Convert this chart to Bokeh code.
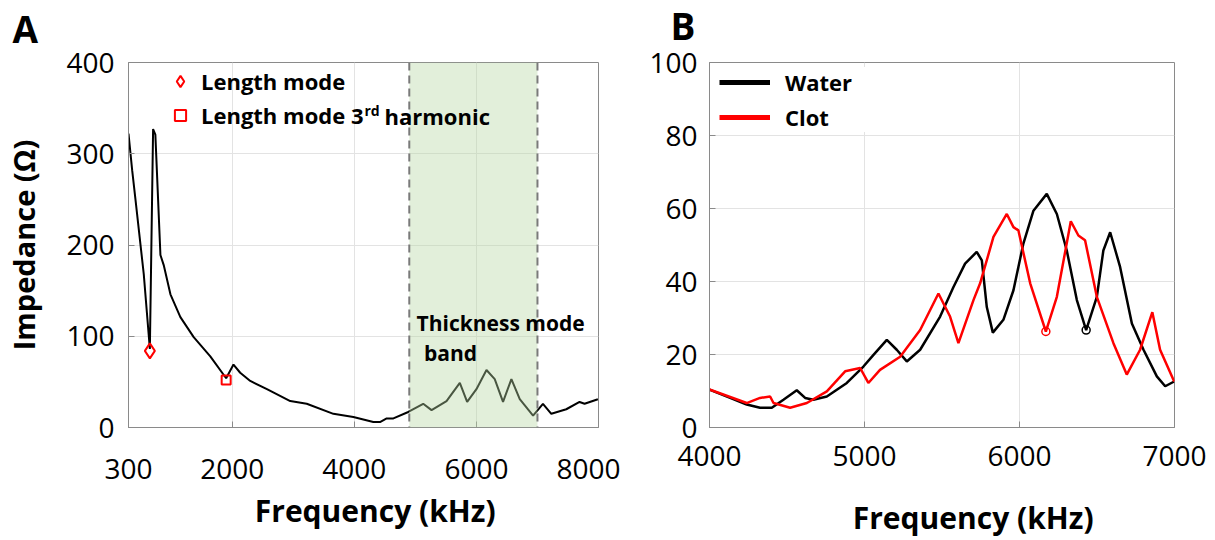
from bokeh.plotting import figure
from bokeh.layouts import row
from bokeh.models import (Range1d, FixedTicker, Label, Legend, LegendItem,
                          BoxAnnotation, Span)
from bokeh.embed import file_html
from bokeh.resources import INLINE

# ---------------- data: panel A ----------------
freq_a = [300, 360, 414, 550, 650, 703, 740, 823, 877, 987, 1150, 1368, 1640,
          1900, 2020, 2130, 2295, 2568, 2950, 3220, 3657, 3984, 4311, 4420,
          4530, 4640, 4883, 5128, 5265, 5510, 5728, 5848, 6000, 6165, 6300,
          6436, 6573, 6710, 6928, 7090, 7227, 7472, 7690, 7772, 7990]
imp_a = [322, 282, 250, 168, 86, 327, 321, 189, 178, 146, 121, 99, 78,
         54, 69, 60, 51, 42, 29, 26, 15, 11.5, 6, 6,
         10, 10, 17, 26, 19, 29, 49, 28, 42, 63, 53,
         28, 53, 31, 13, 26, 15, 20, 28, 26, 31]
length_mode_f = [650]
length_mode_z = [84]
harmonic_f = [1900]
harmonic_z = [52]
band_start = 4900
band_end = 7000
xticks_a = [300, 2000, 4000, 6000, 8000]
yticks_a = [0, 100, 200, 300, 400]

# ---------------- data: panel B ----------------
freq_water = [4000, 4133, 4240, 4326, 4402, 4477, 4563, 4617, 4670, 4757, 4886,
              4993, 5058, 5144, 5208, 5273, 5359, 5488, 5574, 5649, 5724, 5757,
              5789, 5828, 5896, 5961, 6025, 6090, 6176, 6241, 6305, 6370, 6430,
              6499, 6541, 6585, 6649, 6725, 6800, 6886, 6940, 6998]
imp_water = [10.4, 8.1, 6.3, 5.4, 5.4, 7.6, 10.2, 8.1, 7.6, 8.5, 12.2,
             16.7, 19.9, 24.0, 21.3, 18.1, 21.3, 30.4, 38.5, 44.9, 48.1, 45.8,
             33.0, 26.0, 29.5, 37.6, 50.4, 59.4, 64.0, 58.5, 48.5, 34.9, 26.7,
             35.8, 48.5, 53.5, 44.0, 28.5, 21.3, 14.0, 11.3, 12.6]
freq_clot = [4000, 4240, 4326, 4391, 4413, 4520, 4628, 4757, 4875, 4972, 5025,
             5100, 5230, 5359, 5477, 5552, 5606, 5703, 5746, 5832, 5918, 5961,
             5993, 6069, 6170, 6241, 6331, 6380, 6423, 6499, 6606, 6692, 6778,
             6857, 6907, 6998]
imp_clot = [10.4, 6.7, 8.1, 8.5, 6.7, 5.4, 6.7, 9.9, 15.4, 16.3, 12.2,
            15.8, 19.4, 26.7, 36.7, 30.4, 23.1, 34.9, 39.5, 52.2, 58.5, 54.9,
            54.0, 39.5, 26.3, 35.8, 56.5, 52.6, 51.3, 35.8, 23.1, 14.5, 21.3,
            31.6, 21.3, 12.6]
water_min_f = [6430]
water_min_z = [26.7]
clot_min_f = [6170]
clot_min_z = [26.3]
xticks_b = [4000, 5000, 6000, 7000]
yticks_b = [0, 20, 40, 60, 80, 100]

FONT = "Open Sans"
GRID = "#e3e3e3"
FRAME = "#8a8a8a"
NAN = float("nan")
NBSP = "\u00a0"


def style(p, xticks, yticks):
    for ax in (p.xaxis[0], p.yaxis[0]):
        ax.axis_line_color = FRAME
        ax.major_tick_line_color = FRAME
        ax.major_tick_in = 6
        ax.major_tick_out = 0
        ax.minor_tick_line_color = None
        ax.major_label_text_font = FONT
        ax.major_label_text_font_size = "28px"
        ax.major_label_text_color = "black"
        ax.axis_label_text_font = FONT
        ax.axis_label_text_font_size = "30px"
        ax.axis_label_text_font_style = "bold"
        ax.axis_label_text_color = "black"
    p.yaxis[0].axis_label_text_font_size = "29px"
    p.xaxis[0].ticker = FixedTicker(ticks=xticks)
    p.yaxis[0].ticker = FixedTicker(ticks=yticks)
    p.xgrid.ticker = FixedTicker(ticks=xticks)
    p.ygrid.ticker = FixedTicker(ticks=yticks)
    p.grid.grid_line_color = GRID
    p.grid.grid_line_width = 1
    p.outline_line_color = FRAME
    p.outline_line_width = 1
    p.background_fill_color = "white"
    p.border_fill_color = "white"


def txt(**kw):
    base = dict(text_font=FONT, text_font_style="bold", text_color="black",
                text_baseline="middle", text_align="left")
    base.update(kw)
    return Label(**base)


def panel_letter(p, text, x, y):
    p.add_layout(txt(x=x, y=y, x_units="screen", y_units="screen", text=text,
                     text_font_size="37px"), "above")


# ---------------- panel A ----------------
pa = figure(width=620, height=540, output_backend="svg", toolbar_location=None,
            x_range=Range1d(300, 8000), y_range=Range1d(0, 400),
            min_border_left=128, min_border_right=22, min_border_top=57,
            min_border_bottom=111)
style(pa, xticks_a, yticks_a)
panel_letter(pa, "A", -116, 34)
pa.xaxis.axis_label = NBSP * 3 + "Frequency (kHz)"
pa.yaxis.axis_label = "Impedance (Ω)"
pa.xaxis.major_label_standoff = 31
pa.xaxis.axis_label_standoff = 8
pa.yaxis.major_label_standoff = 14
pa.yaxis.axis_label_standoff = 20

pa.line(freq_a, imp_a, line_color="black", line_width=2)
r_diam = pa.scatter(length_mode_f, length_mode_z, marker="diamond", size=15,
                    fill_color=None, line_color="red", line_width=2)
r_sq = pa.scatter(harmonic_f, harmonic_z, marker="square", size=9,
                  fill_color=None, line_color="red", line_width=2)

band = BoxAnnotation(left=band_start, right=band_end, fill_color="#b6d7a2",
                     fill_alpha=0.4, line_color=None)
pa.add_layout(band)
for xv in (band_start, band_end):
    pa.add_layout(Span(location=xv, dimension="height", line_color="#7a7a7a",
                       line_width=2, line_dash="8 5"))

pa.add_layout(txt(x=5020, y=115, text="Thickness mode", text_font_size="21px"))
pa.add_layout(txt(x=5140, y=82, text="band", text_font_size="21px"))

leg_a = Legend(items=[LegendItem(label="Length mode", renderers=[r_diam]),
                      LegendItem(label="Length mode 3", renderers=[r_sq])],
               location=(38, 297), glyph_width=28, glyph_height=30,
               label_height=30, spacing=4, padding=0, margin=0,
               label_standoff=7, label_text_font=FONT, label_text_color="black",
               label_text_font_size="22px", label_text_font_style="bold",
               background_fill_alpha=0, border_line_color=None)
pa.add_layout(leg_a)
pa.add_layout(txt(x=236, y=317, x_units="screen", y_units="screen", text="rd",
                  text_font_size="14px"))
pa.add_layout(txt(x=256, y=312, x_units="screen", y_units="screen",
                  text="harmonic", text_font_size="22px"))

# ---------------- panel B ----------------
pb = figure(width=595, height=540, output_backend="svg", toolbar_location=None,
            x_range=Range1d(4000, 7000), y_range=Range1d(0, 100),
            min_border_left=89, min_border_right=41, min_border_top=62,
            min_border_bottom=112)
style(pb, xticks_b, yticks_b)
panel_letter(pb, "B", -39, 37)
pb.xaxis.axis_label = NBSP * 8 + "Frequency (kHz)"
pb.xaxis.major_label_standoff = 18
pb.xaxis.axis_label_standoff = 28
pb.yaxis.major_label_standoff = 12

pb.line(freq_water, imp_water, line_color="black", line_width=2.5)
pb.line(freq_clot, imp_clot, line_color="#ff0000", line_width=2.5)
pb.scatter(water_min_f, water_min_z, marker="circle", size=8, fill_color=None,
           line_color="black", line_width=1.5)
pb.scatter(clot_min_f, clot_min_z, marker="circle", size=8, fill_color=None,
           line_color="#ff0000", line_width=1.5)
# legend-only renderers (a single undefined point) for thicker legend strokes
lw = pb.line([NAN], [NAN], line_color="black", line_width=5)
lc = pb.line([NAN], [NAN], line_color="#ff0000", line_width=5)

leg_b = Legend(items=[LegendItem(label="Water", renderers=[lw]),
                      LegendItem(label="Clot", renderers=[lc])],
               location=(10, 295), glyph_width=51, glyph_height=26,
               label_height=26, label_width=80, spacing=5, padding=4, margin=0,
               label_standoff=15, label_text_font=FONT, label_text_color="black",
               label_text_font_size="22px", label_text_font_style="bold",
               background_fill_color="white", background_fill_alpha=1,
               border_line_color=None)
pb.add_layout(leg_b)

layout = row(pa, pb)
open("out.html", "w").write(file_html(layout, INLINE))
